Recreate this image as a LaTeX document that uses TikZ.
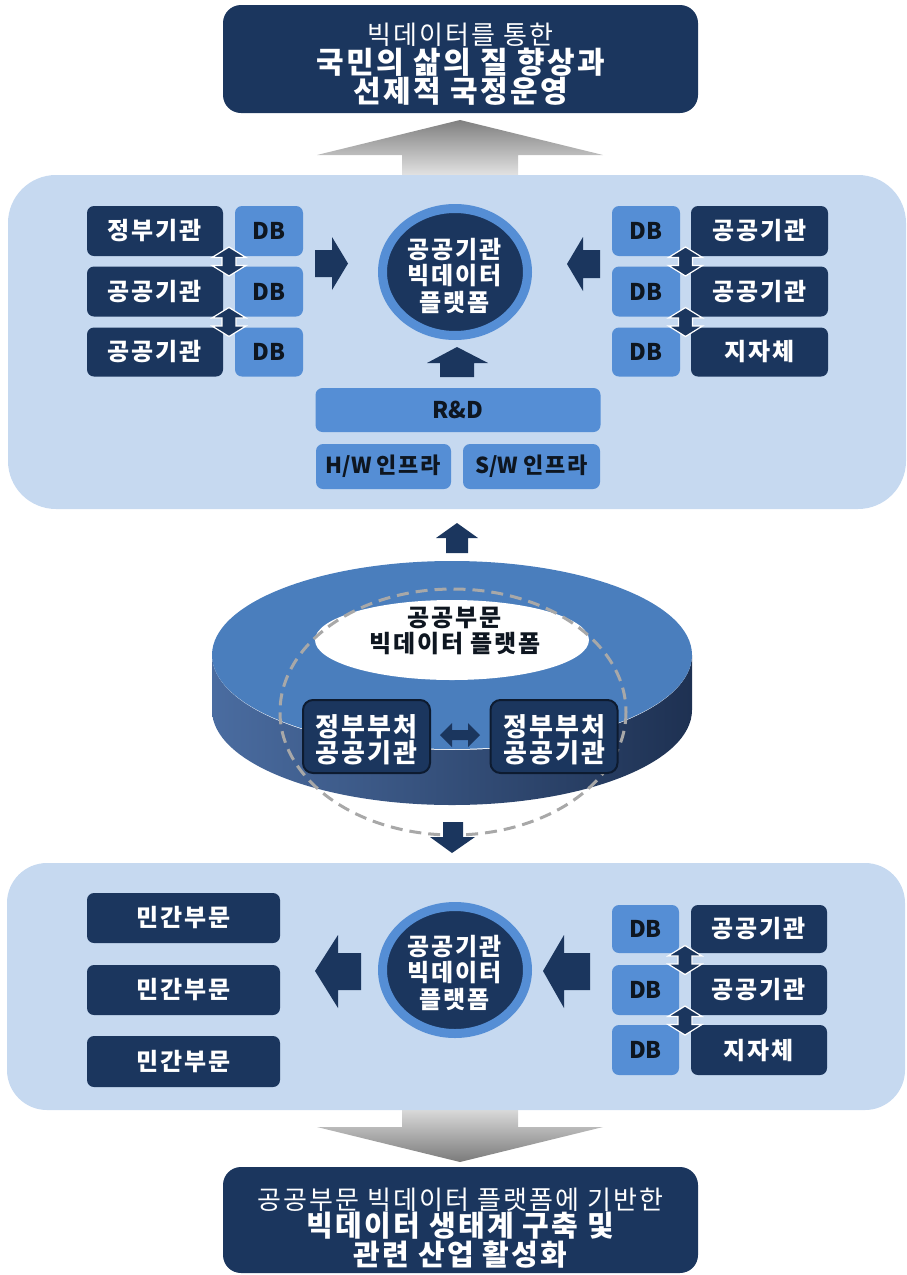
\documentclass[tikz,border=0pt]{standalone}
\usepackage{fontspec}
\setmainfont{Noto Sans CJK KR}[LetterSpace=8]
\newfontfamily\latinfont{Noto Sans CJK KR}
\usetikzlibrary{shapes.geometric}
\definecolor{navy}{HTML}{1B365E}
\definecolor{panelblue}{HTML}{C6D9F0}
\definecolor{midblue}{HTML}{558ED5}
\definecolor{disktop}{HTML}{4A7EBD}
\definecolor{sideleft}{HTML}{4A6CA0}
\definecolor{sideright}{HTML}{1E3152}
\definecolor{dashgray}{HTML}{A8A8A8}
\definecolor{ink}{HTML}{0E1620}
\definecolor{boxedge}{HTML}{0D1B30}
\newcommand\tsize[2]{\fontsize{#1pt}{#2pt}\selectfont}
\newcommand\krbold{\normalfont\bfseries}
\begin{document}
\begin{tikzpicture}[x=1pt,y=-1pt,
  panel/.style={fill=panelblue, rounded corners=48pt, inner sep=0pt},
  darkbox/.style={fill=navy, rounded corners=7pt, text=white, inner sep=0pt,
    align=center, font=\tsize{24}{27}\bfseries},
  dbbox/.style={fill=midblue, rounded corners=7pt, text=ink, inner sep=0pt,
    align=center, font=\latinfont\tsize{23}{25}\bfseries},
  goalbox/.style={fill=navy, rounded corners=18pt, inner sep=0pt,
    minimum width=475pt},
  whitetext/.style={text=white, inner sep=0pt, align=center},
  platform/.style={ellipse, fill=navy, draw=midblue, line width=9pt,
    inner sep=0pt, minimum width=145pt, minimum height=127pt},
  platformtext/.style={text=white, inner sep=0pt, align=center,
    font=\tsize{24}{26.5}\bfseries},
  blockarrow/.style={fill=navy},
  vdbl/.pic={\fill[navy, draw=white, line width=1.2pt]
    (0,-14.5) -- (17,-4) -- (7,-4) -- (7,4) -- (17,4) -- (0,14.5)
    -- (-17,4) -- (-7,4) -- (-7,-4) -- (-17,-4) -- cycle;}
]
\useasboundingbox (0,0) rectangle (907,1275);

% ---------- gray flow arrows (behind the panels) ----------
\shade[top color=black!50, bottom color=black!8]
  (460,120) -- (603,155) -- (518,155) -- (518,180) -- (402,180) -- (402,155)
  -- (317,155) -- cycle;
\shade[top color=black!8, bottom color=black!52]
  (402,1100) -- (518,1100) -- (518,1127) -- (603,1127) -- (460,1162)
  -- (317,1127) -- (402,1127) -- cycle;

% ---------- goal boxes ----------
\node[goalbox, minimum height=108pt] (goal) at (460.5,59) {};
\node[whitetext] (goaltext) at ([yshift=-5.5pt]goal.center)
  {\tsize{26}{30}빅데이터를 통한\\
   \tsize{30}{29}\bfseries 국민의 삶의 질 향상과\\
   \tsize{30}{28}\bfseries 선제적 국정운영};
\node[goalbox, minimum height=106pt] (base) at (460.5,1220) {};
\node[whitetext] (basetext) at ([yshift=-8pt]base.center)
  {\tsize{26}{30}공공부문 빅데이터 플랫폼에 기반한\\
   \tsize{29}{29}\bfseries 빅데이터 생태계 구축 및\\
   \tsize{29}{27}\bfseries 관련 산업 활성화};

% ---------- upper panel ----------
\node[panel, minimum width=898pt, minimum height=334pt] (upper) at (457,342) {};

\node[darkbox, minimum width=136pt, minimum height=50pt] (a1) at (155,231) {정부기관};
\node[darkbox, minimum width=136pt, minimum height=50pt] (a2) at (155,291.5) {공공기관};
\node[darkbox, minimum width=136pt, minimum height=49pt] (a3) at (155,352) {공공기관};
\node[dbbox, minimum width=68pt, minimum height=50pt] (d1) at (269,231) {DB};
\node[dbbox, minimum width=68pt, minimum height=50pt] (d2) at (269,291.5) {DB};
\node[dbbox, minimum width=68pt, minimum height=49pt] (d3) at (269,352) {DB};

\node[dbbox, minimum width=68pt, minimum height=50pt] (e1) at (646,231) {DB};
\node[dbbox, minimum width=68pt, minimum height=50pt] (e2) at (646,291.5) {DB};
\node[dbbox, minimum width=68pt, minimum height=49pt] (e3) at (646,352) {DB};
\node[darkbox, minimum width=137pt, minimum height=50pt] (r1) at (759.5,231) {공공기관};
\node[darkbox, minimum width=137pt, minimum height=50pt] (r2) at (759.5,291.5) {공공기관};
\node[darkbox, minimum width=137pt, minimum height=49pt] (r3) at (759.5,352) {지자체};

\pic at (229,261.5) {vdbl};
\pic at (229,322) {vdbl};
\pic at (685.5,261.5) {vdbl};
\pic at (685.5,322) {vdbl};

\node[platform] (p1) at (455,272) {};
\node[platformtext] (p1text) at ([yshift=-3.5pt]p1.center) {공공기관\\빅데이터\\플랫폼};

\node[dbbox, minimum width=285pt, minimum height=44pt] (rd) at (458,410) {R\&D};
\node[dbbox, minimum width=135pt, minimum height=45pt, font=\latinfont\tsize{22}{24}\bfseries]
  (hw) at (383.5,466.5) {H/W {\krbold 인프라}};
\node[dbbox, minimum width=137pt, minimum height=45pt, font=\latinfont\tsize{22}{24}\bfseries]
  (sw) at (531.5,466.5) {S/W {\krbold 인프라}};

% block arrows feeding the upper platform
\fill[blockarrow] (315,250) -- (332,250) -- (332,237) -- (348,263.5) -- (332,290)
  -- (332,277) -- (315,277) -- cycle;
\fill[blockarrow] (600,250) -- (583,250) -- (583,237) -- (567,264) -- (583,291)
  -- (583,278) -- (600,278) -- cycle;
\fill[blockarrow] (440,377) -- (440,363) -- (427,363) -- (457,347) -- (488,363)
  -- (474,363) -- (474,377) -- cycle;

% ---------- central disk ----------
\fill[blockarrow] (446,553) -- (446,538) -- (436,538) -- (457,523) -- (478,538)
  -- (468,538) -- (468,553) -- cycle;

\shade[left color=sideleft, right color=sideright]
  (212,655) -- (212,710) arc[start angle=180, end angle=0, x radius=240, y radius=95]
  -- (692,655) arc[start angle=0, end angle=180, x radius=240, y radius=95] -- cycle;
\fill[disktop] (452,655) ellipse[x radius=240, y radius=94];
\fill[white] (452,640) ellipse[x radius=137, y radius=40];
\draw[dashgray, line width=3pt, dash pattern=on 12pt off 7pt]
  (453,712) ellipse[x radius=173, y radius=123];

\node[font=\tsize{24}{26}\bfseries, text=ink, align=center, inner sep=0pt] (hub)
  at (455,631) {공공부문\\빅데이터 플랫폼};
\node[darkbox, draw=boxedge, line width=2pt, rounded corners=10pt,
  minimum width=127pt, minimum height=73pt] (g1) at (366.5,736.5) {};
\node[darkbox, draw=boxedge, line width=2pt, rounded corners=10pt,
  minimum width=127pt, minimum height=73pt] (g2) at (554,736.5) {};
\node[whitetext, font=\tsize{26}{26}\bfseries] (g1text) at ([yshift=-3.5pt]g1.center)
  {정부부처\\공공기관};
\node[whitetext, font=\tsize{26}{26}\bfseries] (g2text) at ([yshift=-3.5pt]g2.center)
  {정부부처\\공공기관};
\fill[blockarrow] (440,735) -- (452,723) -- (452,730) -- (468,730) -- (468,723)
  -- (480,735) -- (468,747) -- (468,740) -- (452,740) -- (452,747) -- cycle;

\fill[blockarrow] (443,822) -- (463,822) -- (463,837) -- (475,837) -- (452,853)
  -- (430,837) -- (443,837) -- cycle;

% ---------- lower panel ----------
\node[panel, rounded corners=40pt, minimum width=898pt, minimum height=247pt]
  (lower) at (456,986.5) {};

\node[darkbox, minimum width=193pt, minimum height=50pt] (m1) at (183.5,918) {민간부문};
\node[darkbox, minimum width=193pt, minimum height=50pt] (m2) at (183.5,990) {민간부문};
\node[darkbox, minimum width=193pt, minimum height=51pt] (m3) at (183.5,1061.5) {민간부문};

\node[dbbox, minimum width=67pt, minimum height=48pt] (f1) at (645.5,929) {DB};
\node[dbbox, minimum width=67pt, minimum height=50pt] (f2) at (645.5,990) {DB};
\node[dbbox, minimum width=67pt, minimum height=50pt] (f3) at (645.5,1050) {DB};
\node[darkbox, minimum width=136pt, minimum height=48pt] (s1) at (759,929) {공공기관};
\node[darkbox, minimum width=136pt, minimum height=50pt] (s2) at (759,990) {공공기관};
\node[darkbox, minimum width=136pt, minimum height=50pt] (s3) at (759,1050) {지자체};

\pic at (685,960) {vdbl};
\pic at (685,1020.5) {vdbl};

\node[platform] (p2) at (455,970) {};
\node[platformtext] (p2text) at ([yshift=-2.5pt]p2.center) {공공기관\\빅데이터\\플랫폼};

\fill[blockarrow] (361,953) -- (338,953) -- (338,935) -- (315,971) -- (338,1008)
  -- (338,990) -- (361,990) -- cycle;
\fill[blockarrow] (590,953) -- (564,953) -- (564,935) -- (543,971) -- (564,1008)
  -- (564,990) -- (590,990) -- cycle;
\end{tikzpicture}
\end{document}
